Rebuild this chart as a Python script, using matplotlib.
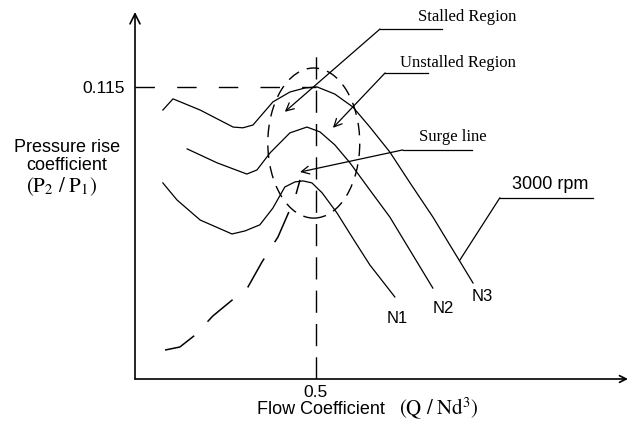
import matplotlib
matplotlib.use("Agg")
import matplotlib.pyplot as plt
from matplotlib.patches import Ellipse

plt.rcParams['font.family'] = ['Liberation Sans', 'DejaVu Sans']
plt.rcParams['mathtext.fontset'] = 'stix'
plt.rcParams['lines.scale_dashes'] = False

# ---- data (flow coefficient, pressure rise coefficient) ----
n3_x = [0.077, 0.105, 0.180, 0.271, 0.298, 0.326, 0.381, 0.428, 0.470, 0.503,
        0.552, 0.602, 0.649, 0.704, 0.760, 0.823, 0.934]
n3_y = [0.1059, 0.1103, 0.1059, 0.0992, 0.0989, 0.1000, 0.1091, 0.1130, 0.1146, 0.1150,
        0.1122, 0.1071, 0.0992, 0.0894, 0.0772, 0.0638, 0.0378]

n2_x = [0.144, 0.227, 0.309, 0.337, 0.373, 0.428, 0.475, 0.511, 0.552, 0.594,
        0.649, 0.704, 0.823]
n2_y = [0.0906, 0.0851, 0.0807, 0.0823, 0.0890, 0.0969, 0.0992, 0.0973, 0.0922, 0.0851,
        0.0744, 0.0638, 0.0358]

n1_x = [0.077, 0.116, 0.180, 0.268, 0.304, 0.345, 0.381, 0.414, 0.442, 0.464,
        0.489, 0.517, 0.558, 0.605, 0.649, 0.718]
n1_y = [0.0772, 0.0705, 0.0626, 0.0571, 0.0583, 0.0607, 0.0673, 0.0756, 0.0776, 0.0780,
        0.0772, 0.0733, 0.0654, 0.0547, 0.0449, 0.0323]

surge_x = [0.083, 0.124, 0.166, 0.215, 0.312, 0.351, 0.395, 0.442, 0.456]
surge_y = [0.0114, 0.0126, 0.0173, 0.0248, 0.0362, 0.0461, 0.0559, 0.0713, 0.0784]

design_flow = 0.5
design_pressure = 0.115
curve_labels = ['N1', 'N2', 'N3']
curve_label_pos = [(0.724, 0.0240), (0.851, 0.0276), (0.959, 0.0323)]

fig = plt.figure(figsize=(6.29, 4.24), dpi=100)
ax = fig.add_axes([135/629, 45/424, 494/629, 367/424])
ax.set_xlim(0, 1.365)
ax.set_ylim(0, 0.1445)
for s in ax.spines.values():
    s.set_visible(False)

# axes with arrow heads
ax.annotate('', xy=(0, 1), xytext=(0, 0), xycoords='axes fraction',
            arrowprops=dict(arrowstyle='->', lw=1.2, color='black',
                            mutation_scale=18, shrinkA=0, shrinkB=0))
ax.annotate('', xy=(0.998, 0), xytext=(0, 0), xycoords='axes fraction',
            arrowprops=dict(arrowstyle='->', lw=1.2, color='black',
                            mutation_scale=12, shrinkA=0, shrinkB=0))

ax.set_xticks([design_flow])
ax.set_xticklabels(['0.5'], fontsize=12.5)
ax.set_yticks([design_pressure])
ax.set_yticklabels(['0.115'], fontsize=12.5)
ax.tick_params(axis='x', length=0, pad=4)
ax.tick_params(axis='y', length=0, pad=7)

lw = 0.9
ax.plot(n1_x, n1_y, color='black', lw=lw)
ax.plot(n2_x, n2_y, color='black', lw=lw)
ax.plot(n3_x, n3_y, color='black', lw=lw)
ax.plot(surge_x, surge_y, color='black', lw=1.1, linestyle=(0, (24, 14)))

# reference dashed lines
ax.plot([0, design_flow], [design_pressure, design_pressure], color='black', lw=1.0,
        linestyle=(0, (14, 16)))
ax.plot([design_flow, design_flow], [0, 0.1276], color='black', lw=1.0,
        linestyle=(0, (16, 8)))

# dashed ellipse around stall region
ax.add_patch(Ellipse((0.494, 0.0929), 0.254, 0.0591, fill=False, edgecolor='black',
                     lw=1.0, linestyle=(0, (9, 6))))

for lab, (x, y) in zip(curve_labels, curve_label_pos):
    ax.text(x, y, lab, fontsize=12, ha='center', va='center')

serif = ['Liberation Serif', 'DejaVu Serif']
arrow_kw = dict(arrowstyle='->', lw=0.9, color='black', mutation_scale=14,
                shrinkA=0, shrinkB=0)

# Stalled Region
ax.text(0.917, 0.1426, 'Stalled Region', family=serif, fontsize=12, ha='center', va='center')
ax.plot([0.677, 0.848], [0.1378, 0.1378], color='black', lw=lw)
ax.annotate('', xy=(0.414, 0.1052), xytext=(0.677, 0.1378), arrowprops=arrow_kw)

# Unstalled Region
ax.text(0.892, 0.1245, 'Unstalled Region', family=serif, fontsize=12, ha='center', va='center')
ax.plot([0.691, 0.809], [0.1205, 0.1205], color='black', lw=lw)
ax.annotate('', xy=(0.547, 0.0989), xytext=(0.691, 0.1205), arrowprops=arrow_kw)

# Surge line
ax.text(0.878, 0.0953, 'Surge line', family=serif, fontsize=12, ha='center', va='center')
ax.plot([0.740, 0.931], [0.0902, 0.0902], color='black', lw=lw)
ax.annotate('', xy=(0.456, 0.0815), xytext=(0.740, 0.0902), arrowprops=arrow_kw)

# 3000 rpm
ax.text(1.146, 0.0764, '3000 rpm', fontsize=13, ha='center', va='center')
ax.plot([1.008, 1.265], [0.0713, 0.0713], color='black', lw=lw)
ax.plot([1.008, 0.898], [0.0713, 0.0469], color='black', lw=lw)

# axis titles
fig.text(67/629, 1 - 147/424, 'Pressure rise', fontsize=13, ha='center', va='center')
fig.text(67/629, 1 - 165/424, 'coefficient', fontsize=13, ha='center', va='center')
fig.text(61/629, 1 - 187/424, r'$(\mathrm{P}_2\ /\ \mathrm{P}_1)$', fontsize=15,
         ha='center', va='center')
fig.text(257/629, 1 - 409/424, 'Flow Coefficient', fontsize=13, ha='left', va='center')
fig.text(399/629, 1 - 408/424, r'$(\mathrm{Q\ /\ Nd}^3)$', fontsize=15,
         ha='left', va='center')

fig.savefig('out.png', dpi=100)
